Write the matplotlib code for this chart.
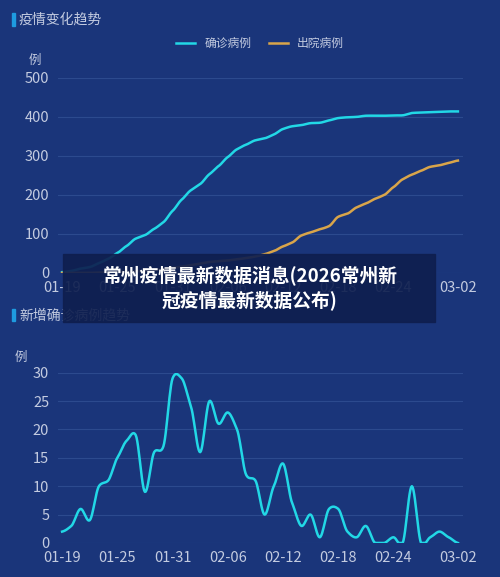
import matplotlib
matplotlib.use("Agg")
import matplotlib.pyplot as plt
import numpy as np
from matplotlib.patches import Rectangle

plt.rcParams['font.family'] = ['Noto Sans CJK SC', 'DejaVu Sans']

tick_labels = ["01-19", "01-25", "01-31", "02-06", "02-12", "02-18", "02-24", "03-02"]
tick_days = [0, 6, 12, 18, 24, 30, 36, 43]
confirmed = [2, 5, 11, 15, 25, 36, 51, 69, 88, 97, 113, 130, 159, 188, 212, 228, 253, 274, 297, 317,
             329, 340, 345, 355, 369, 376, 379, 384, 385, 391, 397, 399, 400, 403, 403, 403, 404, 404,
             410, 411, 412, 413, 414, 414]
discharged = [0, 0, 0, 0, 1, 1, 2, 3, 4, 5, 8, 10, 13, 16, 20, 24, 28, 30, 32, 35,
              38, 42, 48, 56, 68, 78, 96, 104, 112, 120, 144, 152, 168, 178, 190, 200, 220, 240, 252, 262,
              272, 276, 282, 288]
new_cases = [2, 3, 6, 4, 10, 11, 15, 18, 19, 9, 16, 17, 29, 29, 24, 16, 25, 21, 23, 20,
             12, 11, 5, 10, 14, 7, 3, 5, 1, 6, 6, 2, 1, 3, 0, 0, 1, 0, 10, 0, 1, 2, 1, 0]

BG = "#1a357a"
GRID = "#2c4a8e"
TXT = "#c3cbe0"
CYAN = "#22d8e6"
ORANGE = "#d9a54a"

def smooth(y, n=12):
    y = np.asarray(y, float)
    x = np.arange(len(y))
    p = np.concatenate([[y[0]], y, [y[-1]]])
    xs, ys = [], []
    for i in range(len(y) - 1):
        p0, p1, p2, p3 = p[i], p[i + 1], p[i + 2], p[i + 3]
        t = np.linspace(0, 1, n, endpoint=False)
        m1 = (p2 - p0) / 2 * 0.7
        m2 = (p3 - p1) / 2 * 0.7
        h00 = 2*t**3 - 3*t**2 + 1; h10 = t**3 - 2*t**2 + t
        h01 = -2*t**3 + 3*t**2; h11 = t**3 - t**2
        xs.append(x[i] + t); ys.append(h00*p1 + h10*m1 + h01*p2 + h11*m2)
    xs.append([x[-1]]); ys.append([y[-1]])
    return np.concatenate(xs), np.concatenate(ys)

fig = plt.figure(figsize=(5, 5.77), dpi=100, facecolor=BG)

def style(ax, ymax, step):
    ax.set_facecolor(BG)
    for s in ax.spines.values():
        s.set_visible(False)
    ax.set_ylim(0, ymax)
    ax.set_yticks(np.arange(0, ymax + 1, step))
    ax.set_xlim(-0.5, 43.5)
    ax.set_xticks(tick_days)
    ax.set_xticklabels(tick_labels)
    ax.grid(axis='y', color=GRID, lw=0.8)
    ax.tick_params(colors=TXT, labelsize=10.5, length=0, pad=6)
    ax.set_axisbelow(True)

ax1 = fig.add_axes([0.115, 0.527, 0.81, 0.338])
style(ax1, 500, 100)
xs, ys = smooth(confirmed)
ax1.plot(xs, ys, color=CYAN, lw=1.8, label="确诊病例")
xs, ys = smooth(discharged)
ax1.plot(xs, ys, color=ORANGE, lw=1.8, label="出院病例")
ax1.text(-0.055, 1.07, "例", transform=ax1.transAxes, color=TXT, fontsize=9, ha='center')
ax1.legend(loc='lower center', bbox_to_anchor=(0.5, 1.09), ncol=2, frameon=False,
           fontsize=8.5, handlelength=1.6, labelcolor=TXT, columnspacing=1.5)

ax2 = fig.add_axes([0.115, 0.059, 0.81, 0.295])
style(ax2, 30, 5)
xs, ys = smooth(new_cases)
ax2.plot(xs, np.clip(ys, 0, None), color=CYAN, lw=1.8)
ax2.text(-0.09, 1.07, "例", transform=ax2.transAxes, color=TXT, fontsize=9, ha='center')

fig.add_artist(Rectangle((0.024, 0.955), 0.005, 0.022, transform=fig.transFigure, color="#1e9be0"))
fig.text(0.038, 0.966, "疫情变化趋势", color=TXT, fontsize=10, va='center')
fig.add_artist(Rectangle((0.024, 0.443), 0.005, 0.022, transform=fig.transFigure, color="#1e9be0"))
fig.text(0.038, 0.453, "新增确诊病例趋势", color=TXT, fontsize=10, va='center')

fig.add_artist(Rectangle((0.126, 0.442), 0.744, 0.117, transform=fig.transFigure,
                         color="#0f1f4f", alpha=0.92, zorder=10))
fig.text(0.5, 0.502, "常州疫情最新数据消息(2026常州新\n冠疫情最新数据公布)", color="white",
         fontsize=13.5, fontweight='bold', ha='center', va='center', linespacing=1.3, zorder=11)

fig.savefig("out.png", dpi=100, facecolor=BG)
